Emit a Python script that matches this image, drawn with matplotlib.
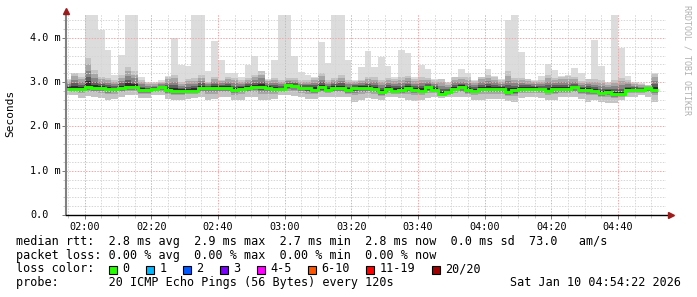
import numpy as np
import pandas as pd
import matplotlib
matplotlib.use("Agg")
import matplotlib.pyplot as plt
import matplotlib.dates as mdates
from matplotlib.patches import Rectangle
from matplotlib.ticker import MultipleLocator

plt.rcParams['font.family'] = ['DejaVu Sans Mono']

# 2-minute steps starting 01:54, values in ms
median_ms = [2.85, 2.85, 2.85, 2.90, 2.87, 2.87, 2.84, 2.84, 2.87, 2.90,
             2.89, 2.82, 2.82, 2.85, 2.88, 2.82, 2.80, 2.80, 2.80, 2.81,
             2.87, 2.87, 2.87, 2.87, 2.87, 2.83, 2.85, 2.87, 2.89, 2.89,
             2.87, 2.85, 2.84, 2.93, 2.91, 2.86, 2.86, 2.83, 2.88, 2.83,
             2.87, 2.87, 2.82, 2.87, 2.87, 2.87, 2.85, 2.78, 2.84, 2.81,
             2.82, 2.87, 2.83, 2.81, 2.88, 2.83, 2.74, 2.77, 2.85, 2.88,
             2.82, 2.81, 2.85, 2.85, 2.85, 2.85, 2.78, 2.82, 2.85, 2.85,
             2.85, 2.84, 2.81, 2.84, 2.84, 2.84, 2.88, 2.82, 2.82, 2.80,
             2.75, 2.78, 2.72, 2.72, 2.82, 2.82, 2.82, 2.86, 2.82]
max_ms = [3.08, 3.21, 3.21, 4.51, 4.51, 4.18, 3.72, 3.15, 3.61, 4.51,
          4.51, 3.12, 3.00, 3.00, 3.04, 3.14, 4.00, 3.38, 3.37, 4.51,
          4.51, 3.24, 3.93, 3.50, 3.20, 3.20, 3.12, 3.38, 3.60, 3.25,
          3.08, 3.50, 4.51, 4.51, 3.60, 3.23, 3.15, 3.12, 3.90, 3.42,
          4.51, 4.51, 3.50, 3.05, 3.35, 3.70, 3.35, 3.56, 3.36, 3.12,
          3.72, 3.65, 3.12, 3.38, 3.30, 3.08, 3.08, 3.00, 3.12, 3.30,
          3.20, 3.05, 3.12, 3.30, 3.13, 3.06, 4.40, 4.51, 3.68, 3.08,
          3.05, 3.14, 3.40, 3.27, 3.13, 3.15, 3.31, 3.20, 3.08, 3.95,
          3.36, 3.00, 4.51, 3.78, 3.13, 3.00, 2.97, 2.94, 3.20]
upper_ms = [3.05, 3.20, 3.12, 3.54, 3.27, 3.11, 3.09, 3.05, 3.16, 3.35,
            3.24, 3.05, 2.98, 2.98, 3.00, 3.12, 3.16, 3.01, 3.07, 3.09,
            3.16, 3.01, 3.12, 3.05, 3.11, 3.09, 3.05, 3.09, 3.16, 3.24,
            3.05, 3.09, 3.05, 3.09, 3.09, 3.05, 3.05, 3.10, 3.20, 3.05,
            3.09, 3.16, 3.05, 3.03, 3.05, 3.12, 3.11, 3.05, 3.09, 3.07,
            3.11, 3.14, 3.06, 3.11, 3.09, 3.05, 3.06, 2.98, 3.11, 3.12,
            3.11, 3.03, 3.12, 3.16, 3.11, 3.04, 3.24, 3.09, 3.09, 3.06,
            3.03, 3.05, 3.16, 3.09, 3.12, 3.14, 3.11, 3.03, 3.06, 3.06,
            3.05, 2.98, 3.05, 3.09, 3.05, 2.99, 2.96, 2.93, 3.18]
lower_ms = [2.76, 2.76, 2.72, 2.75, 2.74, 2.73, 2.70, 2.71, 2.74, 2.77,
            2.77, 2.72, 2.72, 2.76, 2.76, 2.70, 2.69, 2.69, 2.70, 2.71,
            2.74, 2.70, 2.71, 2.74, 2.74, 2.69, 2.70, 2.74, 2.75, 2.70,
            2.70, 2.71, 2.75, 2.78, 2.76, 2.74, 2.71, 2.71, 2.74, 2.73,
            2.74, 2.74, 2.72, 2.67, 2.70, 2.72, 2.71, 2.67, 2.73, 2.72,
            2.72, 2.70, 2.68, 2.69, 2.73, 2.73, 2.67, 2.70, 2.74, 2.75,
            2.72, 2.69, 2.71, 2.71, 2.71, 2.71, 2.67, 2.66, 2.72, 2.74,
            2.74, 2.72, 2.69, 2.70, 2.73, 2.73, 2.75, 2.70, 2.67, 2.68,
            2.64, 2.63, 2.61, 2.65, 2.73, 2.73, 2.75, 2.75, 2.68]
min_ms = [2.71, 2.71, 2.63, 2.69, 2.67, 2.65, 2.59, 2.61, 2.67, 2.71,
          2.71, 2.65, 2.65, 2.70, 2.70, 2.62, 2.60, 2.60, 2.62, 2.63,
          2.67, 2.60, 2.62, 2.67, 2.67, 2.60, 2.60, 2.67, 2.67, 2.59,
          2.59, 2.62, 2.70, 2.70, 2.69, 2.67, 2.62, 2.62, 2.67, 2.67,
          2.67, 2.67, 2.66, 2.56, 2.60, 2.63, 2.62, 2.60, 2.67, 2.67,
          2.65, 2.60, 2.58, 2.60, 2.63, 2.67, 2.63, 2.67, 2.67, 2.67,
          2.67, 2.60, 2.60, 2.61, 2.61, 2.61, 2.58, 2.54, 2.63, 2.67,
          2.67, 2.63, 2.60, 2.60, 2.67, 2.67, 2.67, 2.61, 2.56, 2.60,
          2.56, 2.53, 2.53, 2.60, 2.67, 2.67, 2.71, 2.67, 2.56]

y_ticks = [0.0, 1.0, 2.0, 3.0, 4.0]
y_tick_labels = ["0.0", "1.0 m", "2.0 m", "3.0 m", "4.0 m"]

loss_labels = ["0", "1", "2", "3", "4-5", "6-10", "11-19", "20/20"]
loss_colors = ["#26ff00", "#00b8ff", "#0059ff", "#7a00ff", "#ff00ff",
               "#ff5500", "#ff0000", "#a00000"]

stats_rtt = "median rtt:  2.8 ms avg  2.9 ms max  2.7 ms min  2.8 ms now  0.0 ms sd  73.0   am/s"
stats_loss = "packet loss: 0.00 % avg  0.00 % max  0.00 % min  0.00 % now"
probe_text = "probe:       20 ICMP Echo Pings (56 Bytes) every 120s"
stamp_text = "Sat Jan 10 04:54:22 2026"

W, H = 697, 297
fig = plt.figure(figsize=(W / 100, H / 100), dpi=100)
fig.patch.set_facecolor("white")
ax = fig.add_axes([66 / W, (H - 215) / H, 600 / W, 201 / H])

med = np.array(median_ms)
hi = np.array(upper_ms)
lo = np.array(lower_ms)
mn = np.array(min_ms)
edges = mdates.date2num(pd.date_range("2026-01-10 01:54", periods=len(med) + 1, freq="2min").to_numpy())

# smoke: light outer band, darker shades toward the median
ax.stairs(max_ms, edges, baseline=min_ms, fill=True, color="#dcdcdc", lw=0, zorder=1)
ax.stairs(hi, edges, baseline=mn, fill=True, color="#c4c4c4", lw=0, zorder=1.05)
for f, c in [(0.8, "#a6a6a6"), (0.55, "#858585"), (0.35, "#5e5e5e"), (0.18, "#2e2e2e")]:
    ax.stairs(med + f * (hi - med), edges, baseline=med + f * (lo - med),
              fill=True, color=c, lw=0, zorder=1.1)
ax.stairs(med, edges, baseline=None, color="#26ff00", lw=2.1, zorder=3)

ax.set_xlim(mdates.date2num(pd.Timestamp("2026-01-10 01:54:22")),
            mdates.date2num(pd.Timestamp("2026-01-10 04:54:22")))
ax.set_ylim(0, 4.537)

ax.xaxis.set_major_locator(mdates.MinuteLocator(byminute=[0, 20, 40]))
ax.xaxis.set_minor_locator(mdates.MinuteLocator(byminute=range(0, 60, 5)))
ax.xaxis.set_major_formatter(mdates.DateFormatter("%H:%M"))
ax.set_yticks(y_ticks)
ax.yaxis.set_minor_locator(MultipleLocator(0.2))

ax.set_axisbelow(False)
ax.grid(which="minor", color="#d6d6d6", lw=0.72, linestyle=(0, (1.4, 1.4)))
ax.grid(which="major", color="#f0a8a8", lw=0.72, linestyle=(0, (1.4, 1.4)))
ax.tick_params(which="major", length=3, width=0.7, color="#777777", labelsize=7.3, pad=2)
ax.tick_params(which="minor", length=2, width=0.6, color="#bbbbbb")
ax.tick_params(axis="y", labelleft=False)

for v, lab in zip(y_ticks, y_tick_labels):
    ax.text((30 - 66) / 600, v, lab, transform=ax.get_yaxis_transform(),
            ha="left", va="center", fontsize=7.3)

for s in ax.spines.values():
    s.set_visible(False)
ax.plot([0, 0], [0, 1], transform=ax.transAxes, color="#808080", lw=1.5, clip_on=False, zorder=4)
ax.plot([0, 1.006], [0, 0], transform=ax.transAxes, color="black", lw=1.0, clip_on=False, zorder=4)
ax.plot([1.008], [0], marker=">", ms=4, color="#9b1c1c", transform=ax.transAxes, clip_on=False, zorder=5)
ax.plot([0], [1.015], marker="^", ms=4, color="#9b1c1c", transform=ax.transAxes, clip_on=False, zorder=5)

fig.text(10 / W, 1 - 113 / H, "Seconds", rotation=90, ha="center", va="center", fontsize=8)
fig.text(687 / W, 1 - 60 / H, "RRDTOOL / TOBI OETIKER", rotation=270,
         ha="center", va="center", fontsize=6, color="#b0b0b0")

# legend block
fs = 8.5
cw = 7.1
fig.text(16 / W, 1 - 241.7 / H, stats_rtt, ha="left", va="center", fontsize=fs)
fig.text(16 / W, 1 - 255.3 / H, stats_loss, ha="left", va="center", fontsize=fs)
fig.text(16 / W, 1 - 269 / H, "loss color:", ha="left", va="center", fontsize=fs)
fig.text(16 / W, 1 - 282.7 / H, probe_text, ha="left", va="center", fontsize=fs)
fig.text(681 / W, 1 - 282.7 / H, stamp_text, ha="right", va="center", fontsize=fs)

bx = 108.7
for lab, col in zip(loss_labels, loss_colors):
    fig.add_artist(Rectangle((bx / W, 1 - 273.5 / H), 8 / W, 8 / H, transform=fig.transFigure,
                             facecolor=col, edgecolor="black", lw=0.8))
    fig.text((bx + 13.5) / W, 1 - 269 / H, lab, ha="left", va="center", fontsize=fs)
    bx += 37 + cw * (len(lab) - 1)

fig.savefig("out.png", dpi=100)
